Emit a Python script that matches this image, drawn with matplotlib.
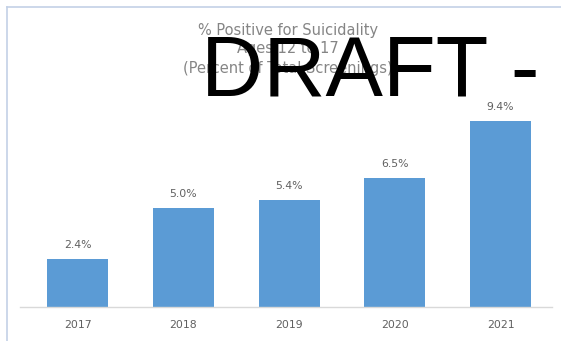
import matplotlib.pyplot as plt
import numpy as np
from matplotlib.lines import Line2D

years = ['2017', '2018', '2019', '2020', '2021']
pct_positive = [2.4, 5.0, 5.4, 6.5, 9.4]
title_lines = ['% Positive for Suicidality', 'Ages 12 to 17', '(Percent of Total Screenings)']
watermark = 'DRAFT -'

bar_color = '#5b9bd5'
text_gray = '#858585'
frame_color = '#c3d1e6'

fig = plt.figure(figsize=(5.61, 3.41), dpi=100)
ax = fig.add_axes([20 / 561, 34 / 341, 532 / 561, 218 / 341])

x = np.arange(len(years))
bars = ax.bar(x, pct_positive, width=0.577, color=bar_color, zorder=2)

# value labels on top of each bar
for rect, val in zip(bars, pct_positive):
    ax.annotate(f"{val:.1f}%", (rect.get_x() + rect.get_width() / 2, rect.get_height()),
                xytext=(0, 6.5), textcoords='offset points', ha='center', va='bottom',
                fontsize=7.8, color='#606060')

ax.set_xlim(-0.544, 4.487)
ax.set_ylim(0, 11)
ax.set_xticks(x)
ax.set_xticklabels(years, fontsize=7.8, color='#606060')
ax.tick_params(axis='x', length=0, pad=9)
ax.set_yticks([])
for side in ['top', 'right', 'left']:
    ax.spines[side].set_visible(False)
ax.spines['bottom'].set_color('#d9d9d9')
ax.spines['bottom'].set_linewidth(1)

# chart title, three centered lines
for i, line in enumerate(title_lines):
    fig.text(288 / 561, 1 - (30 + i * 19) / 341, line, ha='center', va='center',
             fontsize=10.5, color=text_gray)

# outer frame (top and left edges only)
fig.add_artist(Line2D([7 / 561, 1], [1 - 7 / 341, 1 - 7 / 341], color=frame_color, lw=1.2))
fig.add_artist(Line2D([7 / 561, 7 / 561], [0, 1 - 7 / 341], color=frame_color, lw=1.2))

fig.text(201 / 561, 1 - 95 / 341, watermark, ha='left', va='baseline',
         fontsize=62, family='Liberation Sans', color='black')

fig.savefig('out.png', dpi=100)
